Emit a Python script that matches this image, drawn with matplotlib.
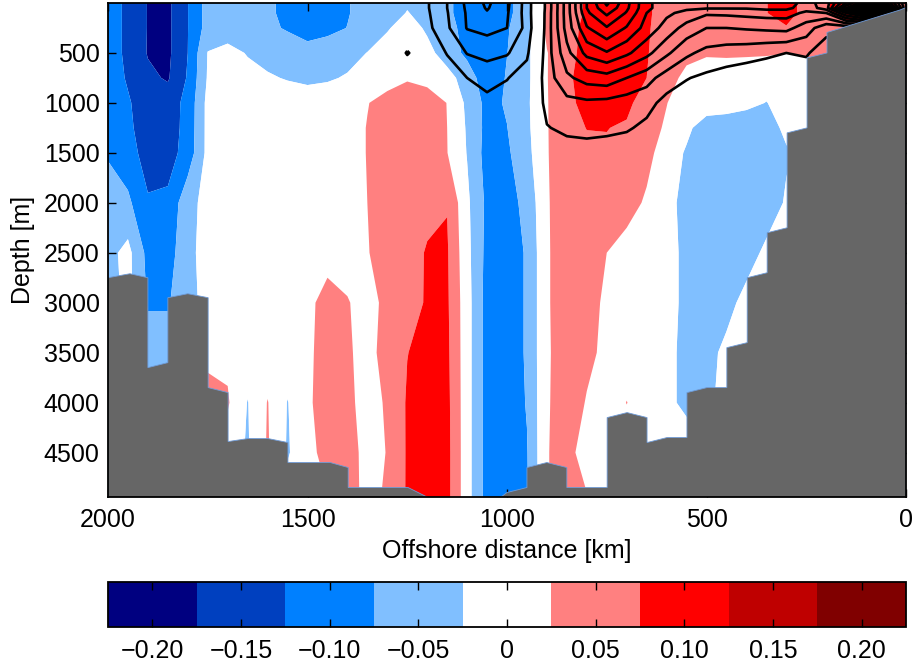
import numpy as np
import matplotlib
matplotlib.use("Agg")
import matplotlib.pyplot as plt
from matplotlib.patches import Polygon

plt.rcParams['font.family'] = ['Liberation Sans', 'DejaVu Sans']
plt.rcParams['contour.negative_linestyle'] = 'solid'

# ---- shaded anomaly section (values in hundredths) ----
# columns: offshore distance 2000, 1950, ..., 0 km
dist_km = np.arange(2000, -1, -50)
depth_m = [0, 100, 250, 500, 750, 1000, 1250, 1500, 2000, 2500, 3000, 3500, 4000, 4500, 5000]

anom_0 = [-10, -13.6, -17.7, -18.5, -12.6, -5.5, -5, -5.5, -6.8, -8.5,
          -9.5, -9, -7.8, -5.7, -4.5, -3, -4, -6.5, -9.8, -11.5,
          -9, -4, 3.5, 5.5, 8, 10, 11, 9, 3.6, 5,
          5.5, 6, 6.5, 7.4, 9, 6.2, 6.5, 13, 15, 10,
          5]
anom_100 = [-10, -13.6, -17.7, -18.5, -12.6, -5.5, -5, -5.5, -6.8, -8.5,
            -9.5, -9, -7.8, -5.7, -4.5, -2.3, -4, -6.5, -9.8, -11.5,
            -9, -4, 3.5, 5.5, 8, 10, 11, 9, 3.6, 5,
            5.5, 6, 6.5, 7.4, 9, 6.2, 6.5, 11, 14, 10,
            5]
anom_250 = [-10, -13.6, -17.7, -18.5, -12.6, -5.5, -5, -5.5, -6.5, -8,
            -9.8, -9, -7.4, -5, -2.8, -1, -3, -6.5, -8.5, -11,
            -8, -4, 3.5, 6, 8.5, 10, 10.5, 8.5, 3.5, 5,
            5.5, 6, 6.5, 7, 7.2, 6, 5, 5, 4, 3,
            3]
anom_500 = [-10, -13.6, -17.8, -18.5, -12.5, -2.3, -1, -2.8, -4, -4.5,
            -5.5, -4.5, -4, -2.4, -1, 0, -1.5, -4, -9, -11,
            -7.6, -3.5, 2.3, 6, 9, 10.5, 10.5, 8, 3.5, 3.5,
            2.8, 3, 3, 3, 2.6, 3, 3, 3, 3, 3,
            3]
anom_750 = [-10, -13, -16.5, -18, -12, -2, -0.5, -1, -2, -2.8,
            -3.5, -3, -2.1, -1, 0.5, 2, 1, -1.3, -4, -11.5,
            -7, -3.5, 2.3, 6.5, 9.8, 11, 10.5, 7.5, 4, 1.5,
            1, 0.5, 0, -1, -0.5, 0, 0, 0, 0, 0,
            0]
anom_1000 = [-10, -12, -15, -15, -11, -1, 0, 0, 0, 0,
             0, 0, 0.5, 2.3, 4.3, 5.5, 5, 2.4, -3.5, -9,
             -7, -3.3, 2.2, 6.5, 8.7, 10.5, 9.5, 3.25, 2.6, 0.5,
             0, -0.5, -1.5, -2.6, -1.2, -0.5, 0, 0, 0, 0,
             0]
anom_1250 = [-10, -11.5, -15, -15, -10.8, -1, 0, 0, 0, 0,
             0, 0, 0.2, 2.7, 5, 5.5, 5, 2.5, -3, -9,
             -7.6, -3.5, 2.2, 6, 7.6, 7.7, 6.5, 4, 2, -1.5,
             -4.8, -5, -5, -4.5, -1.5, 0, 0, 0, 0, 0,
             0]
anom_1500 = [-8, -10.5, -14.5, -14.5, -10.5, -1, 0, 0, 0, 0,
             0, 0, 0.2, 2.7, 5, 5.5, 5.2, 2.6, -2.7, -9.5,
             -8.3, -4, 2.2, 5.5, 6.5, 6.5, 6, 4, 0, -3,
             -5, -5.5, -5.5, -5, -3, -1, 0, 0, 0, 0,
             0]
anom_2000 = [-5, -6.5, -12, -11.5, -4, -1, 0, 0, 0, 0,
             0, 0, 0.2, 2.5, 5, 6, 6.5, 7.3, -1.5, -8.6,
             -9.5, -6, 2.0, 5.5, 6.5, 6, 4.5, 1.8, -1, -4,
             -5.5, -6, -6, -5, -2, 0, 0, 0, 0, 0,
             0]
anom_2500 = [-4, -1, -9, -9.5, -4.2, 0, 0, 0, 0, 0,
             0, 1.0, 0.5, 2.2, 5, 6, 7.8, 8.0, -1, -9,
             -10, -7, 2.0, 5, 4.5, 2.5, 0.5, 0, -1, -3.5,
             -5.5, -5.5, -4.5, -1.5, 0, 0, 0, 0, 0, 0,
             0]
anom_3000 = [-5, -1, -8, -8, -4, -1, 0, 0, 0, 0,
             1.5, 4.0, 2.8, 0.7, 3.8, 5.5, 8, 8.2, -0.5, -9.5,
             -10, -7, 2.0, 5, 4.5, 1.5, 0, 0, -1, -3.5,
             -5, -4, -1, 0, 0, 0, 0, 0, 0, 0,
             0]
anom_3500 = [-4, -3, -5, -5, -2, 1.5, 1.5, 0, 0, 0,
             1.8, 4, 3.0, 1.2, 4, 7.4, 9, 8.5, -0.5, -9.5,
             -10, -7, 2.0, 4.5, 3.5, 1.5, 0, -0.5, -1.5, -3.5,
             -4, -1.4, 0, 0, 0, 0, 0, 0, 0, 0,
             0]
anom_4000 = [-3, -3, -3, -3, 0, 4, 3, -2.7, 2.7, -2.7,
             1.8, 4.5, 3.5, 0.9, 3, 8, 9.5, 8.8, -0.5, -9.5,
             -10.5, -7.2, 2.0, 5, 2.2, 0, 2.6, 0, -1.5, -3.5,
             -3.5, -1, 0, 0, 0, 0, 0, 0, 0, 0,
             0]
anom_4500 = [-3, -3, -3, -3, 0, 0, 0, -3, 3, -3,
             1, 4.2, 3.8, 1.5, 2.6, 8, 10, 9, -0.5, -9.5,
             -11, -7.8, 2.3, 4, 0.5, 0, 0, 0, 0, 0,
             0, 0, 0, 0, 0, 0, 0, 0, 0, 0,
             0]
anom_5000 = [-3, -3, -3, -3, 0, 0, 0, 0, 0, 0,
             0, 2, 4, 1.5, 3, 8, 10, 9, -0.5, -9.5,
             -11, -8, 2.3, 4, 3, 0, 0, 0, 0, 0,
             0, 0, 0, 0, 0, 0, 0, 0, 0, 0,
             0]

# ---- upper-ocean contour field; columns 1400, 1350, ..., 0 km ----
cont_dist_km = np.arange(1400, -1, -50)
cont_depth_m = [0, 50, 100, 250, 500, 750, 1000, 1250, 1500, 2000]

flow_0 = [0, 0, 0, -0.1, -0.9, -2.0, -3.2, -4.2, -3.2, -1.6, 1.3, 4.5, 8.0, 10.2, 8.3,
          6.2, 5.5, 5.4, 5.3, 5.3, 5.4, 5.6, 5.5, 4.6, 5.5, 9, 12, 9, 4]
flow_50 = [0, 0, 0, -0.1, -0.9, -2.0, -3.15, -4.1, -3.15, -1.6, 1.3, 4.5, 8.0, 9.8, 8.2,
           6.2, 5.5, 5.2, 5.1, 5.1, 5.1, 5.3, 5.3, 4.4, 5.5, 11, 18, 12, 4]
flow_100 = [0, 0, 0, -0.1, -0.85, -1.95, -3.1, -3.9, -3.1, -1.6, 1.35, 4.5, 7.8, 9.2, 7.9,
            6.0, 5.2, 4.7, 4.15, 4.2, 4.3, 4.4, 4.4, 3.8, 4.0, 7, 9, 6, 2]
flow_250 = [0, 0, 0, -0.1, -0.7, -1.85, -3.05, -3.3, -3.0, -1.7, 1.4, 4.4, 6.9, 7.9, 6.9,
            5.6, 4.6, 3.6, 3.0, 3.0, 3.1, 3.2, 3.3, 2.5, 1.3, 1.2, 1.0, 1.0, 0.5]
flow_500 = [0, 0, 0, -1.08, -0.3, -1.05, -2.05, -2.3, -2.1, -1.2, 1.5, 3.7, 5.3, 5.9, 5.2,
            4.3, 3.2, 2.2, 1.7, 1.5, 1.4, 1.2, 1.0, 1.1, 0.5, 0.5, 0.5, 0.5, 0.3]
flow_750 = [0, 0, 0, -0.1, -0.2, -0.5, -1.0, -1.4, -1.05, -0.5, 1.5, 2.8, 3.4, 3.6, 3.0,
            2.4, 1.5, 1.05, 0.8, 0.6, 0.4, 0.3, 0.2, 0.5, 0.3, 0.3, 0.3, 0.3, 0.2]
flow_1000 = [0, 0, 0, 0, -0.1, -0.2, -0.5, -0.7, -0.5, -0.2, 1.3, 1.7, 1.8, 1.7, 1.5,
             1.3, 0.7, 0.5, 0.4, 0.3, 0.2, 0.2, 0.2, 0.2, 0.2, 0.2, 0.2, 0.2, 0.1]
flow_1250 = [0, 0, 0, 0, 0, -0.1, -0.2, -0.3, -0.2, 0, 0.95, 1.2, 1.3, 1.2, 1.1,
             0.8, 0.4, 0.3, 0.2, 0.1, 0.1, 0.1, 0.1, 0.1, 0.1, 0.1, 0.1, 0.1, 0.1]
flow_1500 = [0, 0, 0, 0, 0, 0, 0, -0.1, 0, 0, 0.5, 0.6, 0.6, 0.6, 0.5,
             0.3, 0.2, 0.1, 0.1, 0, 0, 0, 0, 0, 0, 0, 0, 0, 0]
flow_2000 = [0] * 29
flow_levels = [-4, -3, -2, -1] + list(range(1, 18))

# ---- bathymetry outline (distance km, depth m) ----
bathy_km = [2000, 1945, 1900, 1900, 1850, 1850, 1800, 1749, 1749, 1699, 1699, 1649, 1599,
            1549, 1549, 1443, 1398, 1398, 1248, 1198, 1150, 1050, 1000, 950, 950, 900, 850,
            850, 749, 749, 699, 649, 649, 599, 549, 549, 499, 449, 449, 398, 398, 348, 348,
            298, 298, 248, 248, 198, 198, 15, 0]
bathy_m = [2750, 2710, 2750, 3650, 3600, 2950, 2910, 2950, 3850, 3900, 4390, 4360, 4360,
           4400, 4600, 4600, 4650, 4850, 4850, 4950, 5050, 5050, 4900, 4850, 4650, 4600, 4650,
           4850, 4850, 4150, 4100, 4150, 4400, 4350, 4350, 3900, 3850, 3850, 3450, 3400, 2750, 2700, 2300,
           2250, 1300, 1250, 550, 500, 295, 70, 45]

# ---- colour classes ----
fill_edges = np.linspace(-0.225, 0.225, 10)
fill_colors = ['#000080', '#0040BF', '#0080FF', '#80BFFF', '#FFFFFF',
               '#FF8080', '#FF0000', '#BF0000', '#800000']
cbar_ticks = [-0.20, -0.15, -0.10, -0.05, 0.0, 0.05, 0.10, 0.15, 0.20]
cbar_labels = ['\u22120.20', '\u22120.15', '\u22120.10', '\u22120.05', '0',
               '0.05', '0.10', '0.15', '0.20']

anomaly = 0.01 * np.array([anom_0, anom_100, anom_250, anom_500, anom_750, anom_1000,
                           anom_1250, anom_1500, anom_2000, anom_2500, anom_3000,
                           anom_3500, anom_4000, anom_4500, anom_5000])
flow = np.array([flow_0, flow_50, flow_100, flow_250, flow_500, flow_750, flow_1000,
                 flow_1250, flow_1500, flow_2000])

W, H = 917, 665
fig = plt.figure(figsize=(W / 100, H / 100), dpi=100)
ax = fig.add_axes([108 / W, 1 - 497 / H, 798 / W, 494 / H])

cf = ax.contourf(dist_km, depth_m, anomaly, levels=fill_edges, colors=fill_colors,
                 antialiased=True, zorder=1)
ax.contour(cont_dist_km, cont_depth_m, flow, levels=flow_levels, colors='k',
           linewidths=1.9, linestyles='solid', zorder=2)

outline = list(zip(bathy_km, bathy_m)) + [(0, 6000), (2000, 6000)]
ax.add_patch(Polygon(outline, closed=True, facecolor='#666666', edgecolor='#6f9bd8',
                     linewidth=0.6, zorder=3))

ax.set_xlim(2000, 0)
ax.set_ylim(4945, 0)
ax.set_xticks([2000, 1500, 1000, 500, 0])
ax.set_xticklabels(['2000', '1500', '1000', '500', '0'])
ax.set_yticks([500, 1000, 1500, 2000, 2500, 3000, 3500, 4000, 4500])
ax.tick_params(direction='in', top=True, right=True, length=6, width=1.0,
               labelsize=18, pad=8)
ax.tick_params(axis='y', pad=6)
for s in ax.spines.values():
    s.set_linewidth(1.3)
    s.set_zorder(5)
ax.set_xlabel('Offshore distance [km]', fontsize=18, labelpad=5)
ax.set_ylabel('Depth [m]', fontsize=18, labelpad=6)

cax = fig.add_axes([108 / W, 1 - 627 / H, 798 / W, 45 / H])
cb = fig.colorbar(cf, cax=cax, orientation='horizontal', ticks=cbar_ticks)
cb.ax.set_xticklabels(cbar_labels)
cb.ax.tick_params(direction='in', top=True, bottom=True, length=6, width=1.0,
                  labelsize=18, pad=9)
cb.ax.minorticks_off()
cb.outline.set_linewidth(1.3)

fig.savefig('out.png', dpi=100)
